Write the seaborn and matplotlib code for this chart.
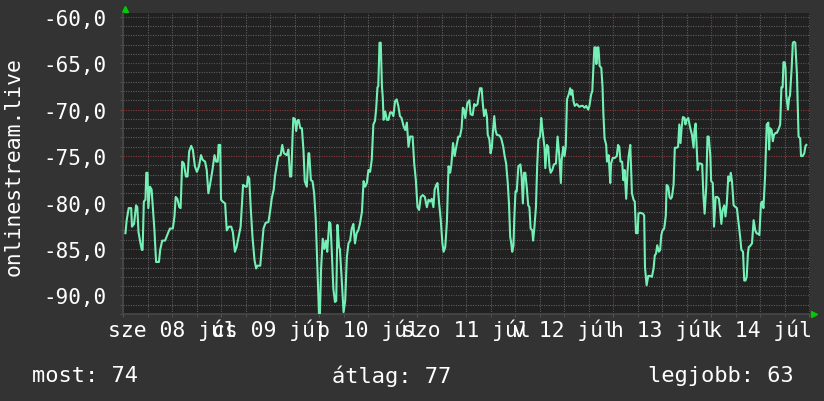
import pandas as pd
import matplotlib
matplotlib.use("Agg")
import matplotlib.pyplot as plt
import seaborn as sns
from matplotlib import ticker

# órák a kezdettől (sze 08 júl 00:00) és jelszint
orak = [
    0.6, 0.9, 1.4, 2.0, 2.2, 2.7, 3.2, 3.5, 3.8, 4.2, 4.6, 4.8, 5.1, 5.5, 5.7, 6.0, 6.2, 6.6, 7.0, 7.3,
    7.7, 8.1, 8.8, 9.1, 9.6, 10.3, 11.1, 11.5, 12.2, 12.6, 12.9, 13.3, 13.8, 14.1, 14.5, 14.9, 15.4, 15.8,
    16.2, 16.7, 17.1, 17.6, 18.1, 18.6, 19.1, 19.5, 20.1, 20.5, 20.9, 21.3, 21.9, 22.4, 22.8, 23.2, 23.4,
    23.8, 24.0, 24.4, 25.0, 25.4, 25.9, 26.5, 26.9, 27.4, 27.8, 28.3, 28.8, 29.4, 30.0, 30.3, 30.6, 30.9,
    31.3, 31.7, 32.2, 32.6, 32.9, 33.6, 34.0, 34.4, 34.9, 35.6, 36.0, 36.4, 36.9, 37.2, 37.6, 38.0, 38.6,
    39.0, 39.4, 40.1, 40.5, 40.9, 41.2, 41.5,
    41.7, 42.1, 42.4, 42.7, 43.0, 43.4, 43.8, 44.2, 44.5, 45.0, 45.4, 45.6, 46.0, 46.4, 46.8, 47.2, 47.6,
    48.0, 48.2, 48.5, 48.9, 49.3, 49.7, 50.0, 50.5, 50.8, 51.1, 51.5, 51.9, 52.2, 52.5, 52.9, 53.1, 53.5,
    54.0, 54.4, 54.8, 55.2, 55.6, 56.0, 56.4, 56.8, 57.2, 57.6, 58.0, 58.5, 58.9, 59.3, 59.7, 60.1, 60.5,
    60.9, 61.3, 61.7, 62.0, 62.3, 62.5, 62.8, 63.1, 63.4, 63.6, 63.8, 64.2, 64.6, 65.0, 65.4, 65.8, 66.2,
    66.6, 67.0, 67.4, 67.8, 68.2, 68.7, 69.1, 69.5, 69.9, 70.3, 70.9, 71.3, 71.7, 72.1, 72.5, 72.9, 73.4,
    73.9, 74.4, 74.8, 75.2, 75.6, 76.0, 76.3, 76.7, 77.0, 77.4, 77.8, 78.2, 78.5, 78.9, 79.3, 79.7, 80.1,
    80.4, 80.8, 81.2, 81.6, 82.1,
    82.5, 82.9, 83.2, 83.5, 83.8, 84.1, 84.3, 84.8, 85.1, 85.6, 86.0, 86.4, 86.8, 87.1, 87.4, 87.8, 88.1,
    88.4, 88.8, 89.1, 89.3, 89.7, 90.0, 90.3, 90.6, 90.9, 91.2, 91.5, 92.2, 92.6, 93.1, 93.4, 93.8, 94.2,
    94.5, 94.8, 95.0, 95.3, 95.6, 95.8, 96.1, 96.4, 96.8, 97.3, 97.6, 97.9, 98.2, 98.5, 98.9, 99.2, 99.5,
    99.8, 100.2, 100.4, 100.7, 101.1, 101.4, 101.7, 102.1, 102.4, 102.6, 102.9, 103.2, 103.4, 103.8, 104.1,
    104.4, 104.7, 105.1, 105.5, 106.0, 106.4, 106.8, 107.2, 107.4, 107.8, 108.1, 108.4, 108.7, 109.1,
    109.5, 109.7, 110.0, 110.3, 110.6, 111.1, 111.7, 112.2, 112.6, 113.0, 113.4, 113.9, 114.2, 114.6,
    114.9, 115.2, 115.4, 115.7, 115.9, 116.2, 116.4, 116.7, 117.1, 117.4, 117.6, 117.9, 118.3, 118.5,
    118.9, 119.3, 119.5, 119.9, 120.4, 120.9, 121.2, 121.5, 121.8, 122.2, 122.5, 122.8, 123.2, 123.5, 123.8,
    124.2, 124.6, 125.0, 125.3, 125.6, 126.0, 126.2, 126.6, 127.3, 127.6, 127.8, 128.2, 128.6, 129.1,
    129.5, 129.9, 130.2, 130.5, 130.8, 131.2, 131.5, 131.8, 132.1, 132.5, 132.9, 133.1, 133.5, 133.8,
    134.1, 134.4, 134.8, 135.1, 135.6, 135.9, 136.2, 136.5, 136.8, 137.1, 137.5, 137.7, 138.0, 138.4,
    138.7, 139.0, 139.3, 139.7, 139.9, 140.2, 140.4, 140.7, 141.0, 141.4, 141.8, 142.1, 142.4, 142.8,
    143.1, 143.4, 143.8, 144.0, 144.4, 144.7, 145.1, 145.5, 145.9, 146.2, 146.5, 146.8, 147.2, 147.5,
    147.8, 148.2, 148.5, 148.8, 149.1, 149.5, 150.0, 150.3, 150.7, 151.1, 151.4, 151.8, 152.1, 152.4,
    152.7, 153.0, 153.2, 153.5, 154.0, 154.4, 154.8, 155.1, 155.6, 155.8, 156.2, 156.5, 156.8, 157.2,
    157.6, 158.0, 158.2, 158.4, 158.8, 159.1, 159.4, 159.8, 160.1, 160.6, 160.9, 161.2, 161.5, 161.7,
    162.0, 162.2, 162.4, 162.8, 163.1, 163.3, 163.7, 164.0, 164.3, 164.6, 165.0, 165.4, 165.8, 166.0,
    166.4, 166.8, 167.1, 167.3,
]
jelszint = [
    -83.3, -81.9, -80.6, -80.6, -82.6, -82.3, -80.3, -80.5, -83.2, -84.2, -85.1, -85.1, -79.9, -79.7, -76.8, -76.8, -80.6, -78.3, -78.6, -80.5,
    -83.0, -86.4, -86.4, -85.1, -84.1, -84.1, -83.2, -82.8, -82.8, -81.5, -79.4, -79.6, -80.5, -80.6, -75.6, -75.8, -77.2, -77.2,
    -74.5, -73.9, -74.3, -76.1, -76.7, -76.1, -74.9, -75.4, -75.6, -76.5, -79.0, -78.1, -76.5, -74.9, -75.6, -75.6, -73.8,
    -73.8, -79.7, -79.9, -80.1, -83.0, -82.6, -82.6, -83.2, -85.3, -84.8, -83.7, -82.6, -78.1, -78.3, -78.3, -77.2, -77.4,
    -80.8, -83.7, -86.2, -87.1, -86.8, -86.8, -84.8, -82.8, -82.2, -82.1, -81.0, -79.6, -78.6, -77.2, -76.1, -75.0, -74.9,
    -73.8, -74.7, -74.9, -74.3, -77.2, -77.2, -73.1,
    -70.9, -71.0, -72.3, -71.2, -71.1, -72.0, -72.0, -74.5, -77.7, -78.3, -74.7, -74.7, -77.6, -77.7, -79.0, -81.9, -87.0,
    -92.2, -92.2, -87.1, -83.9, -85.0, -84.1, -85.3, -82.1, -82.3, -85.1, -89.3, -90.7, -90.6, -82.4, -84.8, -85.0, -87.9,
    -91.8, -90.6, -85.9, -84.4, -84.1, -82.8, -82.3, -84.4, -83.3, -83.0, -82.3, -81.0, -77.7, -78.3, -77.9, -76.5, -76.7,
    -75.4, -71.6, -71.2, -69.8, -67.6, -67.5, -62.8, -62.8, -67.5, -68.7, -71.1, -70.2, -71.1, -71.1, -70.3, -70.3, -70.7,
    -69.1, -68.9, -69.6, -70.7, -70.9, -71.8, -72.2, -71.4, -74.0, -72.9, -72.9, -75.8, -77.6, -80.5, -80.8, -79.4, -79.2,
    -79.4, -80.5, -79.7, -79.9, -79.6, -80.5, -78.6, -78.1, -77.9, -80.1, -81.9, -84.4, -85.3, -84.8, -82.1, -76.1, -76.8,
    -75.9, -73.6, -75.0, -74.0, -72.9,
    -72.9, -72.0, -69.8, -70.0, -70.9, -70.0, -69.3, -69.0, -70.5, -70.6, -69.4, -69.6, -69.4, -68.5, -67.7, -67.7, -69.4,
    -70.7, -70.0, -70.8, -72.7, -73.2, -74.7, -74.1, -72.2, -70.7, -72.2, -72.7, -72.8, -73.1, -74.0, -74.9, -75.8, -77.9,
    -80.1, -83.7, -84.2, -85.3, -84.6, -81.7, -78.8, -78.8, -76.1, -75.9, -77.2, -80.1, -76.8, -76.8, -78.6, -80.3, -80.5,
    -82.8, -83.0, -84.1, -82.8, -80.5, -76.1, -73.2, -72.9, -70.9, -71.8, -72.9, -74.1, -76.3, -73.8, -74.0,
    -76.1, -76.8, -76.5, -75.9, -75.8, -72.9, -74.9, -77.9, -75.4, -74.0, -75.0, -74.0, -68.9, -68.4,
    -67.7, -68.4, -67.9, -69.1, -69.6, -69.4, -69.7, -69.6, -69.6, -69.8, -69.6, -70.0, -69.6, -68.4,
    -68.0, -65.3, -63.3, -63.3, -65.1, -63.3, -63.3, -65.3, -65.5, -67.5, -70.3, -73.1, -73.8, -75.6,
    -74.9, -77.9, -75.8, -75.2, -75.2, -75.0, -73.8, -74.0, -75.6, -75.6, -77.6, -76.5, -79.6, -76.8, -75.0,
    -73.8, -79.0, -79.7, -79.9, -83.3, -83.3, -81.2, -81.1, -81.2, -81.4, -87.0, -88.9, -87.9, -87.9,
    -88.0, -87.1, -85.7, -85.5, -84.6, -85.3, -85.1, -83.5, -83.0, -82.8, -81.4, -78.1, -78.3, -79.4,
    -79.6, -79.4, -78.1, -74.1, -74.1, -74.0, -71.6, -73.6, -71.8, -70.8, -70.9, -71.6, -71.1, -70.9,
    -71.6, -72.2, -72.7, -74.1, -72.3, -71.5, -73.6, -76.5, -75.8, -75.8, -75.9, -79.2, -81.2, -78.3,
    -72.9, -72.9, -75.0, -77.7, -77.9, -82.6, -79.4, -79.4, -79.6, -80.8, -82.3, -80.8, -80.3, -81.5,
    -80.3, -77.2, -77.7, -76.8, -77.7, -80.3, -80.5, -80.6, -82.1, -83.7, -85.1, -85.3, -88.4, -88.4,
    -88.0, -85.5, -84.8, -84.7, -84.4, -81.9, -83.0, -83.3, -83.4, -83.5, -80.1, -79.9, -80.6, -77.2,
    -71.6, -71.4, -74.3, -72.0, -72.2, -73.4, -72.7, -72.5, -72.5, -72.0, -71.6, -67.6, -67.6, -64.9,
    -64.9, -65.5, -68.5, -70.0, -68.7, -68.5, -65.6, -62.8, -62.7, -62.8, -66.2, -72.9, -73.1, -75.0,
    -75.0, -74.7, -73.9, -73.8,
]
nap_cimkek = ["sze 08 júl", "cs 09 júl", "p 10 júl", "szo 11 júl", "v 12 júl", "h 13 júl", "k 14 júl"]
also_sor = ["most: 74", "átlag: 77", "legjobb: 63"]

df = pd.DataFrame({"ora": orak, "jel": jelszint})

HATTER = "#333333"
VASZON = "#212121"
VONAL = "#74F0B6"
SZOVEG = "#ffffff"

plt.rcParams["font.family"] = ["DejaVu Sans Mono"]
plt.rcParams["font.size"] = 15

fig = plt.figure(figsize=(8.24, 4.02), dpi=100, facecolor=HATTER)
ax = fig.add_axes([123 / 824, 1 - 315 / 402, 687 / 824, 301 / 402])
ax.set_facecolor(VASZON)

sns.lineplot(data=df, x="ora", y="jel", ax=ax, color=VONAL, linewidth=1.5,
             estimator=None, sort=False, zorder=5)

ax.set_xlim(0, 168.2)
ax.set_ylim(-92.0, -59.6)

# rács: napok / 6 óra, 5 egység / 1 egység
ax.xaxis.set_major_locator(ticker.MultipleLocator(24))
ax.xaxis.set_minor_locator(ticker.MultipleLocator(6))
ax.yaxis.set_major_locator(ticker.MultipleLocator(5))
ax.yaxis.set_minor_locator(ticker.MultipleLocator(1))
ax.grid(which="minor", color="#5e5e5e", linestyle=(0, (1, 1.2)), linewidth=0.8)
ax.grid(which="major", color="#8c3a3a", linestyle=(0, (1, 1.2)), linewidth=0.8)
ax.set_axisbelow(True)

ax.yaxis.set_major_formatter(ticker.FuncFormatter(lambda v, p: f"{v:.1f}".replace(".", ",")))
ax.tick_params(axis="y", which="major", colors=SZOVEG, labelsize=15, length=2, pad=10)
ax.tick_params(axis="y", which="major", color="#8c3a3a")
ax.tick_params(axis="y", which="minor", length=2, color="#555555")
ax.tick_params(axis="x", which="both", length=2, color="#555555", labelbottom=False)

# napnevek délben
sec = ax.secondary_xaxis("bottom")
sec.set_xticks([24 * i + 12 for i in range(len(nap_cimkek))], labels=nap_cimkek)
sec.tick_params(length=0, pad=3, colors=SZOVEG, labelsize=15.4)
sec.spines["bottom"].set_visible(False)

for s in ["top", "right"]:
    ax.spines[s].set_visible(False)
for s in ["left", "bottom"]:
    ax.spines[s].set_color("#484848")
    ax.spines[s].set_linewidth(1.2)

ax.set_xlabel("")
ax.set_ylabel("")

# nyilak a tengelyek végén
ax.plot([0.003], [1.012], marker="^", color="#00cc00", markersize=5, transform=ax.transAxes, clip_on=False)
ax.plot([1.006], [0.0], marker=">", color="#00cc00", markersize=5, transform=ax.transAxes, clip_on=False)

fig.text(14 / 824, 1 - 167 / 402, "onlinestream.live", rotation=90, ha="center", va="center",
         color=SZOVEG, fontsize=15.4)
fig.text(32 / 824, 1 - 376 / 402, also_sor[0], ha="left", va="center", color=SZOVEG, fontsize=15.8)
fig.text(392 / 824, 1 - 376 / 402, also_sor[1], ha="center", va="center", color=SZOVEG, fontsize=15.8)
fig.text(794 / 824, 1 - 376 / 402, also_sor[2], ha="right", va="center", color=SZOVEG, fontsize=15.8)

fig.savefig("out.png", dpi=100, facecolor=HATTER)
